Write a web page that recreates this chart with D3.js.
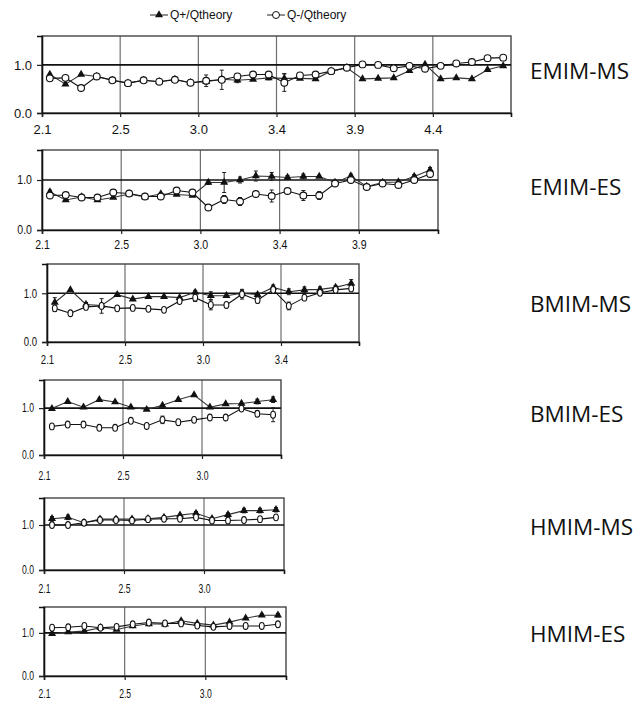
<!DOCTYPE html>
<html>
<head>
<meta charset="utf-8">
<script src="https://cdn.jsdelivr.net/npm/d3@7"></script>
<style>
body { margin: 0; background: #fff; }
</style>
</head>
<body>
<div id="chart"></div>
<script>
// legend + panel names
const seriesNames = ["Q+/Qtheory", "Q-/Qtheory"];
const panelNames = ["EMIM-MS", "EMIM-ES", "BMIM-MS", "BMIM-ES", "HMIM-MS", "HMIM-ES"];
const yTickValues = [0, 1];

// EMIM-MS
const emimMsTicks = ["2.1", "2.5", "3.0", "3.4", "3.9", "4.4"];
const emimMsPlus = [0.80,0.60,0.80,0.76,0.68,0.62,0.68,0.65,0.70,0.63,0.65,0.70,0.68,0.70,0.73,0.72,0.72,0.71,0.87,0.94,0.71,0.72,0.73,0.88,1.01,0.71,0.73,0.71,0.90,0.98];
const emimMsMinus = [0.72,0.73,0.52,0.76,0.68,0.62,0.68,0.65,0.69,0.63,0.67,0.69,0.76,0.80,0.80,0.63,0.78,0.80,0.87,0.94,1.01,1.00,0.93,0.98,0.92,0.98,1.03,1.06,1.14,1.15];
const emimMsPlusErr = [0,0,0,0,0,0,0,0,0,0,0.05,0.05,0.05,0,0.04,0.1,0,0,0,0,0,0,0,0,0,0,0,0,0,0];
const emimMsMinusErr = [0,0,0,0,0,0,0,0,0,0,0.12,0.2,0.06,0,0,0.18,0,0,0,0,0,0,0,0,0,0,0,0,0,0];

// EMIM-ES
const emimEsTicks = ["2.1", "2.5", "3.0", "3.4", "3.9"];
const emimEsPlus = [0.76,0.60,0.66,0.60,0.65,0.72,0.66,0.72,0.71,0.69,0.95,0.95,1.00,1.08,1.07,1.05,1.07,1.07,0.95,1.08,0.87,0.95,0.96,1.07,1.20];
const emimEsMinus = [0.69,0.70,0.65,0.65,0.75,0.73,0.67,0.67,0.79,0.75,0.45,0.61,0.57,0.72,0.68,0.78,0.69,0.69,0.93,1.00,0.86,0.93,0.90,1.00,1.12];
const emimEsPlusErr = [0.04,0,0,0,0,0,0,0,0,0,0.04,0.2,0.06,0.1,0.08,0.04,0.05,0,0,0.04,0,0,0,0.04,0.05];
const emimEsMinusErr = [0,0,0,0,0,0,0,0,0,0,0,0.08,0.08,0.05,0.12,0.04,0.1,0.08,0,0,0,0,0,0,0];

// BMIM-MS
const bmimMsTicks = ["2.1", "2.5", "3.0", "3.4"];
const bmimMsPlus = [0.81,1.07,0.77,0.75,0.97,0.88,0.93,0.93,0.91,1.02,0.95,0.95,1.00,0.97,1.12,1.03,1.07,1.08,1.12,1.20];
const bmimMsMinus = [0.69,0.59,0.72,0.74,0.69,0.70,0.68,0.66,0.84,0.91,0.76,0.76,0.98,0.86,1.07,0.74,0.91,1.01,1.07,1.10];
const bmimMsPlusErr = [0.1,0,0.04,0,0,0,0,0,0,0.04,0.08,0,0.06,0.04,0.05,0.06,0.06,0.05,0.04,0.08];
const bmimMsMinusErr = [0.06,0,0.04,0.15,0,0,0,0,0.04,0.08,0.1,0,0.1,0.06,0,0.08,0,0,0,0.05];

// BMIM-ES
const bmimEsTicks = ["2.1", "2.5", "3.0"];
const bmimEsPlus = [0.99,1.14,1.02,1.18,1.13,1.02,0.97,1.06,1.18,1.28,1.02,1.09,1.10,1.14,1.18];
const bmimEsMinus = [0.61,0.65,0.65,0.58,0.58,0.73,0.62,0.75,0.70,0.75,0.80,0.80,0.99,0.88,0.86];
const bmimEsPlusErr = [0,0,0,0,0,0,0,0,0,0,0,0,0,0.05,0.06];
const bmimEsMinusErr = [0,0,0,0,0,0,0,0.08,0,0,0,0,0,0.06,0.15];

// HMIM-MS
const hmimMsTicks = ["2.1", "2.5", "3.0"];
const hmimMsPlus = [1.14,1.17,1.05,1.13,1.13,1.13,1.14,1.17,1.22,1.26,1.14,1.23,1.32,1.32,1.34];
const hmimMsMinus = [1.00,1.00,1.05,1.11,1.11,1.10,1.13,1.14,1.14,1.17,1.10,1.10,1.11,1.13,1.17];
const hmimMsPlusErr = [0.05,0.05,0,0,0,0,0,0,0,0.04,0,0.04,0.05,0.05,0.05];
const hmimMsMinusErr = [0.04,0.04,0.04,0.04,0.04,0.03,0.03,0.04,0.04,0.05,0.04,0.04,0.03,0.03,0.04];

// HMIM-ES
const hmimEsTicks = ["2.1", "2.5", "3.0"];
const hmimEsPlus = [0.98,1.02,1.04,1.12,1.08,1.16,1.21,1.20,1.28,1.22,1.18,1.25,1.34,1.41,1.41];
const hmimEsMinus = [1.12,1.13,1.16,1.12,1.14,1.20,1.24,1.22,1.22,1.17,1.14,1.16,1.16,1.16,1.20];
const hmimEsPlusErr = [0,0,0,0,0,0,0,0,0,0,0,0,0,0.03,0.04];
const hmimEsMinusErr = [0.03,0.03,0.03,0.03,0.03,0.03,0.03,0.03,0.03,0.03,0.03,0.03,0.03,0.03,0.03];

const axisFont = "'Liberation Sans', Arial, sans-serif";

const panels = [
    {name: panelNames[0], ticks: emimMsTicks, plus: emimMsPlus, minus: emimMsMinus, plusErr: emimMsPlusErr, minusErr: emimMsMinusErr,
     left: 42, right: 511, top: 36, bottom: 113, fontSize: 13, squeeze: 1, pad: 8, labelY: 79, oval: false},
    {name: panelNames[1], ticks: emimEsTicks, plus: emimEsPlus, minus: emimEsMinus, plusErr: emimEsPlusErr, minusErr: emimEsMinusErr,
     left: 42, right: 438, top: 150, bottom: 230, fontSize: 12, squeeze: 0.88, pad: 6, labelY: 195, oval: false},
    {name: panelNames[2], ticks: bmimMsTicks, plus: bmimMsPlus, minus: bmimMsMinus, plusErr: bmimMsPlusErr, minusErr: bmimMsMinusErr,
     left: 47, right: 359, top: 264, bottom: 342, fontSize: 12, squeeze: 0.8, pad: 9, labelY: 312, oval: true},
    {name: panelNames[3], ticks: bmimEsTicks, plus: bmimEsPlus, minus: bmimEsMinus, plusErr: bmimEsPlusErr, minusErr: bmimEsMinusErr,
     left: 44, right: 281, top: 380, bottom: 455, fontSize: 12, squeeze: 0.72, pad: 12, labelY: 422, oval: true},
    {name: panelNames[4], ticks: hmimMsTicks, plus: hmimMsPlus, minus: hmimMsMinus, plusErr: hmimMsPlusErr, minusErr: hmimMsMinusErr,
     left: 44, right: 284, top: 498, bottom: 570, fontSize: 12, squeeze: 0.72, pad: 10, labelY: 535, oval: true},
    {name: panelNames[5], ticks: hmimEsTicks, plus: hmimEsPlus, minus: hmimEsMinus, plusErr: hmimEsPlusErr, minusErr: hmimEsMinusErr,
     left: 44, right: 286, top: 607, bottom: 676, fontSize: 12, squeeze: 0.72, pad: 9, labelY: 642, oval: true}
];

const svg = d3.select("#chart")
    .append("svg")
    .attr("width", 637)
    .attr("height", 702)
    .style("display", "block");

const triangle = d3.symbol().type(d3.symbolTriangle).size(28);

// Legend
const legend = svg.append("g").attr("font-family", axisFont).attr("font-size", 12).attr("fill", "#111");
const legendX = [150, 267];
seriesNames.forEach((name, i) => {
    const g = legend.append("g").attr("transform", `translate(${legendX[i]},15)`);
    g.append("line").attr("x1", 0).attr("x2", 18).attr("stroke", "#222").attr("stroke-width", 1);
    if (i == 0) {
        g.append("path").attr("d", triangle).attr("transform", "translate(9,0)").attr("fill", "#111");
    } else {
        g.append("circle").attr("cx", 9).attr("r", 3.5).attr("fill", "#fff").attr("stroke", "#111");
    }
    g.append("text").attr("x", 20).attr("dy", "0.35em").text(name);
});

panels.forEach(p => {
    const n = p.plus.length;
    const xScale = d3.scaleLinear().domain([0, n]).range([p.left, p.right]);
    const yScale = d3.scaleLinear().domain([0, 1.6]).range([p.bottom, p.top]);
    const tickIdx = p.ticks.map((t, i) => i * 5);

    const g = svg.append("g");

    // vertical gridlines
    g.selectAll(".grid")
        .data(tickIdx.slice(1))
        .join("line")
        .attr("x1", d => xScale(d)).attr("x2", d => xScale(d))
        .attr("y1", p.top).attr("y2", p.bottom)
        .attr("stroke", "#6e6e6e").attr("stroke-width", 1.2);

    // frame
    g.append("rect")
        .attr("x", p.left).attr("y", p.top)
        .attr("width", p.right - p.left).attr("height", p.bottom - p.top)
        .attr("fill", "none").attr("stroke", "#444").attr("stroke-width", 1.4);

    // reference line at 1.0
    g.append("line")
        .attr("x1", p.left).attr("x2", p.right)
        .attr("y1", yScale(1)).attr("y2", yScale(1))
        .attr("stroke", "#111").attr("stroke-width", 1.6);

    // axes
    const yAxis = d3.axisLeft(yScale).tickValues(yTickValues).tickFormat(d3.format(".1f")).tickSize(5).tickPadding(5);
    const xAxis = d3.axisBottom(xScale).tickValues(tickIdx).tickFormat((d, i) => p.ticks[i]).tickSize(4).tickPadding(p.pad);

    const yg = g.append("g").attr("transform", `translate(${p.left},0)`).call(yAxis);
    const xg = g.append("g").attr("transform", `translate(0,${p.bottom})`).call(xAxis);
    [yg, xg].forEach(ax => {
        ax.select(".domain").attr("stroke", "#111").attr("stroke-width", 1.6);
        ax.selectAll(".tick line").attr("stroke", "#222").attr("stroke-width", 1.2);
        ax.selectAll(".tick text")
            .attr("font-family", axisFont)
            .attr("font-size", p.fontSize)
            .attr("fill", "#111")
            .attr("x", function() { return (+d3.select(this).attr("x") || 0) / p.squeeze; })
            .attr("transform", `scale(${p.squeeze},1)`);
    });

    // series
    const series = [
        {vals: p.plus, err: p.plusErr, color: "#333"},
        {vals: p.minus, err: p.minusErr, color: "#111"}
    ];
    const line = d3.line().x((d, i) => xScale(i + 0.5)).y(d => yScale(d));

    series.forEach(s => {
        g.append("path")
            .attr("d", line(s.vals))
            .attr("fill", "none").attr("stroke", s.color).attr("stroke-width", 1.1);

        const eb = g.append("g");
        s.vals.forEach((v, i) => {
            if (!s.err[i]) return;
            const cx = xScale(i + 0.5);
            eb.append("line").attr("x1", cx).attr("x2", cx)
                .attr("y1", yScale(v - s.err[i])).attr("y2", yScale(v + s.err[i]))
                .attr("stroke", "#222").attr("stroke-width", 1);
            [v - s.err[i], v + s.err[i]].forEach(e => {
                eb.append("line").attr("x1", cx - 2).attr("x2", cx + 2)
                    .attr("y1", yScale(e)).attr("y2", yScale(e))
                    .attr("stroke", "#222").attr("stroke-width", 1);
            });
        });
    });

    // markers
    g.selectAll(".tri")
        .data(p.plus)
        .join("path")
        .attr("d", triangle)
        .attr("transform", (d, i) => `translate(${xScale(i + 0.5)},${yScale(d)})`)
        .attr("fill", "#111");

    g.selectAll(".circ")
        .data(p.minus)
        .join("ellipse")
        .attr("cx", (d, i) => xScale(i + 0.5))
        .attr("cy", d => yScale(d))
        .attr("rx", p.oval ? 2.4 : 3.4)
        .attr("ry", 3.4)
        .attr("fill", "#fff").attr("stroke", "#111").attr("stroke-width", 1.1);

    // panel name
    svg.append("text")
        .attr("x", 530).attr("y", p.labelY)
        .attr("font-family", "'Open Sans', 'Noto Sans', sans-serif")
        .attr("font-size", 22.5)
        .attr("fill", "#111")
        .text(p.name);
});
</script>
</body>
</html>
